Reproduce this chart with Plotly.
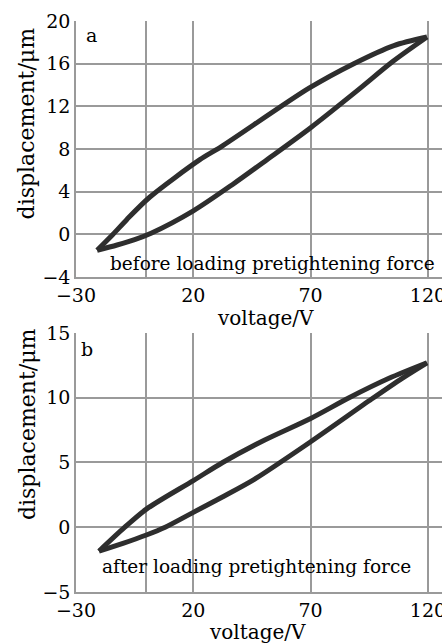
import plotly.graph_objects as go

# ---- data ----
# panel a: before loading pretightening force
a_rise_v = [-21, -12.5, -5, 2, 20, 36.9, 51.4, 70, 90, 105, 119.6]
a_rise_d = [-1.5, -1.0, -0.5, 0.1, 2.2, 4.7, 7.0, 10.0, 13.5, 16.2, 18.5]
a_fall_v = [119.6, 105.5, 88.4, 69.3, 31.8, 22.8, 1.5, -8.3, -14.2, -21]
a_fall_d = [18.5, 17.7, 16.0, 13.7, 8.2, 7.0, 3.5, 1.4, 0.0, -1.5]

# panel b: after loading pretightening force
b_rise_v = [-20.2, -10, 0, 8, 20, 32, 46, 70, 96, 109, 119.6]
b_rise_d = [-1.85, -1.25, -0.6, 0.0, 1.15, 2.3, 3.7, 6.6, 9.9, 11.5, 12.7]
b_fall_v = [119.6, 103.4, 86.4, 70, 50, 32.5, 20, 0, -9.2, -20.2]
b_fall_d = [12.7, 11.5, 10.0, 8.4, 6.7, 5.0, 3.6, 1.4, 0.0, -1.85]

x_tickvals = [-30, 0, 20, 70, 120]
x_ticktext = ["\u221230", "", "20", "70", "120"]
ya_tickvals = [-4, 0, 4, 8, 12, 16, 20]
ya_ticktext = ["\u22124", "0", "4", "8", "12", "16", "20"]
yb_tickvals = [-5, 0, 5, 10, 15]
yb_ticktext = ["\u22125", "0", "5", "10", "15"]

FONT = "DejaVu Serif"
LINE = dict(color="#2e2e2e", width=5, shape="spline", smoothing=0.8)
GRID = "#9a9a9a"

fig = go.Figure()
# vertical grid line at the last x tick, drawn as a thin trace behind the curves
fig.add_trace(go.Scatter(x=[x_tickvals[-1], x_tickvals[-1]], y=[ya_tickvals[0], ya_tickvals[-1]],
                         mode="lines", line=dict(color=GRID, width=1.5),
                         hoverinfo="skip", xaxis="x", yaxis="y"))
fig.add_trace(go.Scatter(x=[x_tickvals[-1], x_tickvals[-1]], y=[yb_tickvals[0], yb_tickvals[-1]],
                         mode="lines", line=dict(color=GRID, width=1.5),
                         hoverinfo="skip", xaxis="x2", yaxis="y2"))
fig.add_trace(go.Scatter(x=a_rise_v, y=a_rise_d, mode="lines", line=LINE, xaxis="x", yaxis="y"))
fig.add_trace(go.Scatter(x=a_fall_v, y=a_fall_d, mode="lines", line=LINE, xaxis="x", yaxis="y"))
fig.add_trace(go.Scatter(x=b_rise_v, y=b_rise_d, mode="lines", line=LINE, xaxis="x2", yaxis="y2"))
fig.add_trace(go.Scatter(x=b_fall_v, y=b_fall_d, mode="lines", line=LINE, xaxis="x2", yaxis="y2"))

xcommon = dict(range=[-30, 126], tickvals=x_tickvals, ticktext=x_ticktext,
               showgrid=True, gridcolor=GRID, gridwidth=1.5,
               showline=True, linecolor=GRID, linewidth=1.5, automargin=False,
               ticklabeloverflow="allow",
               zeroline=False, ticks="", tickfont=dict(family=FONT, size=19, color="black"))
ycommon = dict(showgrid=True, gridcolor=GRID, gridwidth=1.5,
               showline=True, linecolor=GRID, linewidth=1.5, automargin=False,
               ticklabeloverflow="allow",
               zeroline=False, ticks="", tickfont=dict(family=FONT, size=19, color="black"))

fig.update_layout(
    width=442, height=643,
    margin=dict(l=76, r=0, t=21, b=51),
    paper_bgcolor="white", plot_bgcolor="white",
    showlegend=False,
    font=dict(family=FONT, color="black"),
    xaxis=dict(domain=[0, 1], anchor="y", **xcommon),
    yaxis=dict(domain=[0.5517, 1.0], anchor="x", range=[-4, 20],
               tickvals=ya_tickvals, ticktext=ya_ticktext, **ycommon),
    xaxis2=dict(domain=[0, 1], anchor="y2", **xcommon),
    yaxis2=dict(domain=[0.0, 0.4536], anchor="x2", range=[-5, 15],
                tickvals=yb_tickvals, ticktext=yb_ticktext, **ycommon),
)

ann = []
def add(text, x, y, size, angle=0):
    ann.append(dict(text=text, x=x, y=y, xref="paper", yref="paper",
                    xanchor="center", yanchor="middle", showarrow=False,
                    textangle=angle, font=dict(family=FONT, size=size, color="black")))

add("voltage/V", 0.519, 0.4799, 20)
add("voltage/V", 0.497, -0.0700, 20)
add("displacement/\u03bcm", -0.134, 0.8205, 22, -90)
add("displacement/\u03bcm", -0.134, 0.294, 22, -90)
add("a", 0.0437, 0.9755, 19)
add("b", 0.030, 0.4256, 19)
add("before loading pretightening force", 0.538, 0.576, 18.5)
add("after loading pretightening force", 0.4945, 0.0455, 18.5)
fig.update_layout(annotations=ann)

fig.write_html("out.html", config={"displayModeBar": False},
               post_script="document.body.style.margin='0px';document.body.style.overflow='hidden';")
